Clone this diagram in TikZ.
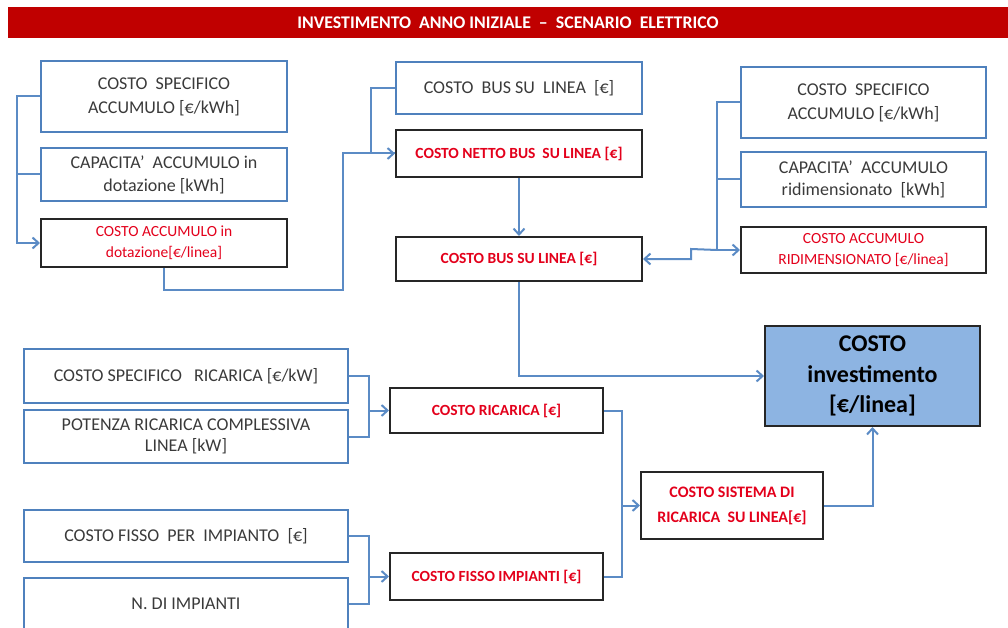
\documentclass[tikz,border=0pt]{standalone}
\usepackage{fontspec}
\setmainfont{Carlito}
\usetikzlibrary{arrows.meta}
\definecolor{titred}{HTML}{C00000}
\definecolor{bluebd}{HTML}{4F81BD}
\definecolor{conncol}{HTML}{5B8BC5}
\definecolor{redtxt}{HTML}{E3001B}
\definecolor{graytxt}{HTML}{3A3A3A}
\definecolor{gfill}{HTML}{8DB4E2}
\begin{document}
\begin{tikzpicture}[x=1pt,y=-1pt,
  inbox/.style={draw=bluebd, line width=2pt, align=center, text=graytxt,
    font=\fontsize{18}{23}\selectfont, inner sep=0pt},
  calcbox/.style={draw=black!85, line width=2pt, align=center, text=redtxt,
    font=\fontsize{15.5}{22}\selectfont\bfseries, inner sep=0pt},
  calcthin/.style={calcbox, font=\fontsize{15.5}{21}\selectfont},
  line/.style={draw=conncol, line width=2pt},
  conn/.style={line, -{Straight Barb[length=6pt,width=11pt,line width=2pt]}},
]
\useasboundingbox (0,0) rectangle (1008,628);
\clip (0,0) rectangle (1008,628);
% title
\node[fill=titred, minimum width=1000pt, minimum height=31pt, inner sep=0pt,
  text=white, font=\fontsize{17.8}{19}\selectfont\bfseries] (title) at (508,22.5)
  {INVESTIMENTO\ \ ANNO INIZIALE\ \ –\ \ SCENARIO\ \ ELETTRICO};

% top-left group
\node[inbox, minimum width=246pt, minimum height=71pt, font=\fontsize{18}{24}\selectfont] (A1) at (164,96.5) {COSTO\ \ SPECIFICO\\ACCUMULO [€/kWh]};
\node[inbox, minimum width=246pt, minimum height=53pt] (A2) at (164,174.5) {CAPACITA’\ \ ACCUMULO in\\dotazione [kWh]};
\node[calcthin, minimum width=246pt, minimum height=48pt] (A3) at (164,243) {COSTO ACCUMULO in\\dotazione[€/linea]};

% top-middle group
\node[inbox, minimum width=246pt, minimum height=52pt] (B1) at (519,88) {COSTO\ \ BUS SU\ \ LINEA\ \ [€]};
\node[calcbox, minimum width=246pt, minimum height=47pt] (B2) at (519,153.5) {COSTO NETTO BUS\ \ SU LINEA [€]};
\node[calcbox, minimum width=246pt, minimum height=44pt] (B3) at (519,259) {COSTO BUS SU LINEA [€]};

% top-right group
\node[inbox, minimum width=245pt, minimum height=71pt, font=\fontsize{18}{24}\selectfont] (C1) at (863.5,102.5) {COSTO\ \ SPECIFICO\\ACCUMULO [€/kWh]};
\node[inbox, minimum width=245pt, minimum height=55pt, font=\fontsize{18}{22}\selectfont] (C2) at (863.5,179.5) {CAPACITA’\ \ ACCUMULO\\ridimensionato\ \ [kWh]};
\node[calcthin, minimum width=245pt, minimum height=46pt] (C3) at (863.5,250) {COSTO ACCUMULO\\RIDIMENSIONATO [€/linea]};

% bottom-left group
\node[inbox, minimum width=324pt, minimum height=54pt] (D1) at (186,376) {COSTO SPECIFICO\ \ \ RICARICA [€/kW]};
\node[inbox, minimum width=324pt, minimum height=53pt, font=\fontsize{18}{21}\selectfont] (D2) at (186,436.5) {POTENZA RICARICA COMPLESSIVA\\LINEA [kW]};
\node[inbox, minimum width=324pt, minimum height=52pt] (D3) at (186,536) {COSTO FISSO\ \ PER\ \ IMPIANTO\ \ [€]};
\node[inbox, minimum width=324pt, minimum height=52pt] (D4) at (186,604) {N. DI IMPIANTI};

% bottom-middle group
\node[calcbox, minimum width=213pt, minimum height=45pt] (E1) at (496.5,410.5) {COSTO RICARICA [€]};
\node[calcbox, minimum width=213pt, minimum height=47pt] (E2) at (496.5,576.5) {COSTO FISSO IMPIANTI [€]};
\node[calcbox, minimum width=182pt, minimum height=67pt, font=\fontsize{16}{25}\selectfont\bfseries] (F) at (732,505.5) {COSTO SISTEMA DI\\RICARICA\ \ SU LINEA[€]};

% result
\node[draw=black!85, line width=2pt, fill=gfill, align=center, inner sep=0pt,
  minimum width=215pt, minimum height=100pt, text=black,
  font=\fontsize{24}{30.5}\selectfont\bfseries] (G) at (872.5,376) {COSTO\\investimento\\{[€/linea]}};

% junction coordinates
\coordinate (jA) at (17,0);
\coordinate (k1) at (343,290);
\coordinate (jB) at (371,0);
\coordinate (jC) at (717,0);
\coordinate (jC2) at (691,249);
\coordinate (jC3) at (691,259);
\coordinate (jD) at (369,0);
\coordinate (jE) at (622,0);

% connectors top-left
\draw[line] (A2.west) -- (A2.west -| jA);
\draw[conn] (A1.west) -- (A1.west -| jA) |- (A3.west);
\draw[conn] (A3.south) |- (k1) |- (B2.west);
\draw[line] (B1.west) -- (B1.west -| jB) |- (B2.west);
\draw[conn] (B2.south) -- (B3.north);
\draw[conn] (B3.south) |- (G.west);

% connectors top-right
\draw[line] (C2.west) -- (C2.west -| jC);
\draw[conn] (C1.west) -- (C1.west -| jC) |- (C3.west);
\draw[conn] (C3.west -| jC) -- (jC2) -- (jC3) -- (B3.east);

% bottom connectors
\draw[line] (D2.east) -- (D2.east -| jD) -- (D1.east -| jD);
\draw[conn] (D1.east) -- (D1.east -| jD) |- (E1.west);
\draw[line] (D4.east) -- (D4.east -| jD) -- (D3.east -| jD);
\draw[conn] (D3.east) -- (D3.east -| jD) |- (E2.west);
\draw[line] (E2.east) -- (E2.east -| jE) -- (E1.east -| jE);
\draw[conn] (E1.east) -- (E1.east -| jE) |- (F.west);
\draw[conn] (F.east) -| (G.south);
\end{tikzpicture}
\end{document}
